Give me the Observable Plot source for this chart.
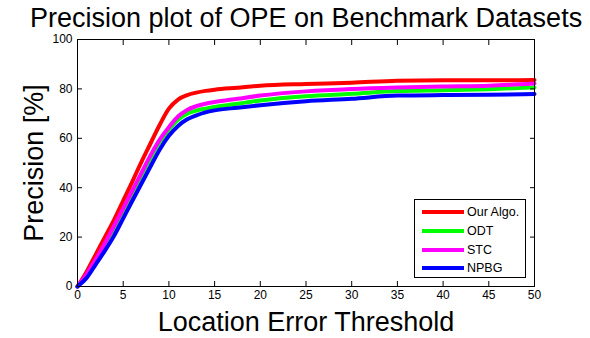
<!DOCTYPE html>
<html>
<head>
<meta charset="utf-8">
<script src="https://cdn.jsdelivr.net/npm/d3@7"></script>
<script src="https://cdn.jsdelivr.net/npm/@observablehq/plot@0.6"></script>
<style>
  body { margin: 0; background: #fff; font-family: "Liberation Sans", Arial, sans-serif; }
  #wrap { position: relative; width: 590px; height: 338px; }
  #legend { position: absolute; left: 414px; top: 199px; width: 112px; height: 79px; border: 1px solid #000; background: #fff; box-sizing: border-box; padding-top: 3px; }
  .row { display: flex; align-items: center; height: 18.7px; }
  .sw { display: inline-block; width: 42px; height: 4px; margin-left: 7px; margin-right: 3px; }
  .lb { font-size: 12.5px; color: #000; }
</style>
</head>
<body>
<div id="wrap"></div>
<script>
const title = "Precision plot of OPE on Benchmark Datasets";
const xLabel = "Location Error Threshold";
const yLabel = "Precision [%]";
const series = ["Our Algo.", "ODT", "STC", "NPBG"];
const colors = ["#ff0000", "#00ff00", "#ff00ff", "#0000ff"];
const thresholds = [0,1,2,3,4,5,6,7,8,9,10,11,12,13,14,15,17.5,20,25,30,35,40,45,50];
const ourAlgo = [0,6,13,20,27,34.7,42.5,50.5,58,65.5,72,75.7,77.5,78.5,79.2,79.7,80.5,81.3,82,82.5,83.3,83.5,83.5,83.6];
const odt     = [0,4.5,10.5,16.5,23.5,30,37.5,45,52,58.5,63.5,67.5,70,71.2,72,72.7,74,75.3,77,78,79.1,79.5,79.9,80.6];
const stc     = [0,5,11,17.5,24.5,31.6,38.8,46,53.2,59.5,64.5,68.8,71.5,73,74,74.7,76,77.3,79,80,80.6,81,81.3,82.2];
const npbg    = [0,3.5,9,14.5,20.5,27.6,34.7,41.7,48.7,55.5,61,65,67.7,69.3,70.5,71.3,72.4,73.4,75,76,77.3,77.5,77.6,77.9];
const xTicks = [0,5,10,15,20,25,30,35,40,45,50];
const yTicks = [0,20,40,60,80,100];

const valueSets = [ourAlgo, odt, stc, npbg];
const data = [];
series.forEach((s, si) => thresholds.forEach((t, i) => data.push({series: s, x: t, y: valueSets[si][i]})));

const chart = Plot.plot({
  width: 590,
  height: 338,
  marginLeft: 77,
  marginRight: 56,
  marginTop: 39,
  marginBottom: 52,
  style: {fontFamily: "Liberation Sans, Arial, sans-serif", fontSize: "12px", color: "#000", background: "#fff"},
  x: {domain: [0, 50]},
  y: {domain: [0, 100]},
  color: {domain: series, range: colors},
  marks: [
    Plot.line(data, {x: "x", y: "y", z: "series", stroke: "series", strokeWidth: 4, curve: "monotone-x"}),
    Plot.frame({stroke: "#000", strokeWidth: 1}),
    Plot.axisX({ticks: xTicks, tickSize: 0, tickPadding: 4, label: null, fontSize: 12}),
    Plot.axisX({ticks: xTicks, tickSize: -5, tickFormat: () => "", label: null}),
    Plot.axisX({ticks: xTicks, anchor: "top", tickSize: -5, tickFormat: () => "", label: null}),
    Plot.axisY({ticks: yTicks, tickSize: 0, tickPadding: 5, label: null, fontSize: 12}),
    Plot.axisY({ticks: yTicks, tickSize: -5, tickFormat: () => "", label: null}),
    Plot.axisY({ticks: yTicks, anchor: "right", tickSize: -5, tickFormat: () => "", label: null}),
    Plot.text([title], {frameAnchor: "top", dy: -21, fontSize: 27, textAnchor: "middle", lineAnchor: "middle", fill: "#000"}),
    Plot.text([xLabel], {frameAnchor: "bottom", dy: 36, fontSize: 27, textAnchor: "middle", lineAnchor: "middle", fill: "#000"}),
    Plot.text([yLabel], {frameAnchor: "left", dx: -43, rotate: -90, fontSize: 27, textAnchor: "middle", lineAnchor: "middle", fill: "#000"})
  ]
});
const wrap = document.getElementById("wrap");
wrap.appendChild(chart);
const legend = document.createElement("div");
legend.id = "legend";
series.forEach((s, i) => {
  const row = document.createElement("div");
  row.className = "row";
  row.innerHTML = `<span class="sw" style="background:${colors[i]}"></span><span class="lb">${s}</span>`;
  legend.appendChild(row);
});
wrap.appendChild(legend);
</script>
</body>
</html>
